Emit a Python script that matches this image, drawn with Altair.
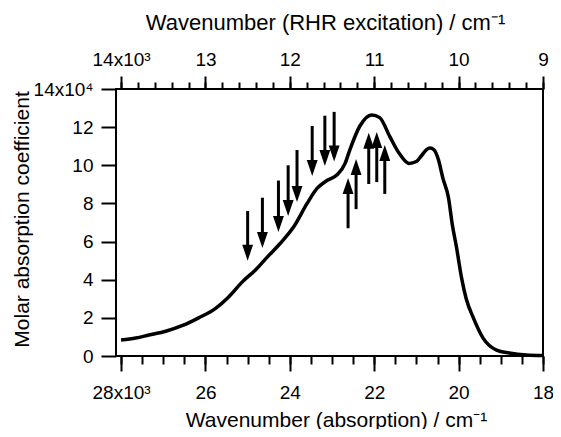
import altair as alt
import pandas as pd

# Absorption spectrum: wavenumber in 10^3 cm^-1, molar absorption in 10^4
wavenumber = [28.0, 27.65, 27.34, 26.94, 26.54, 26.16, 25.76, 25.45, 25.12, 24.82,
              24.53, 24.23, 23.9, 23.59, 23.35, 23.12, 22.88, 22.69, 22.58, 22.34,
              22.06, 21.87, 21.63, 21.4, 21.18, 21.0, 20.88, 20.76, 20.68, 20.58,
              20.48, 20.37, 20.24, 20.15, 20.05, 19.93, 19.82, 19.65, 19.42, 19.1,
              18.8, 18.4, 18.0]
absorption = [0.84, 0.94, 1.1, 1.3, 1.6, 2.0, 2.5, 3.1, 3.9, 4.5,
              5.2, 5.9, 6.8, 8.0, 8.8, 9.2, 9.5, 10.1, 10.8, 12.06,
              12.64, 12.5, 11.5, 10.6, 10.1, 10.2, 10.5, 10.82, 10.9, 10.8,
              10.3, 9.3, 8.3, 6.9, 5.7, 4.1, 3.0, 2.0, 0.94, 0.31,
              0.16, 0.05, 0.02]

# Down arrows (bleaching)
down_w = [25.0, 24.65, 24.27, 24.04, 23.83, 23.47, 23.17, 22.95]
down_tail = [7.6, 8.3, 9.2, 10.0, 10.8, 12.06, 12.6, 12.8]
down_tip = [5.0, 5.66, 6.5, 7.34, 8.08, 9.44, 9.96, 10.2]

# Up arrows
up_w = [22.62, 22.43, 22.13, 21.94, 21.75]
up_tail = [6.7, 7.7, 9.02, 9.12, 8.5]
up_tip = [9.33, 10.33, 11.7, 11.75, 11.06]

bottom_ticks = [28, 26, 24, 22, 20, 18]
bottom_minor = [18 + 0.5 * i for i in range(21)]
top_ticks = [14, 13, 12, 11, 10, 9]
top_minor = [round(9 + 0.2 * i, 2) for i in range(26)]
y_ticks = [0, 2, 4, 6, 8, 10, 12, 14]

X_DOM = [28.12, 18.0]
TOP_DOM = [14.06, 9.0]
Y_DOM = [0, 14]
FONT = "Liberation Sans"

curve = pd.DataFrame({"w": wavenumber, "eps": absorption})
down = pd.DataFrame({"w": down_w, "tail": down_tail, "tip": down_tip})
up = pd.DataFrame({"w": up_w, "tail": up_tail, "tip": up_tip})

xs = alt.Scale(domain=X_DOM, nice=False, zero=False)
ts = alt.Scale(domain=TOP_DOM, nice=False, zero=False)
ys = alt.Scale(domain=Y_DOM, nice=False, zero=False)

line = alt.Chart(curve).mark_line(
    color="black", strokeWidth=3.5, interpolate="monotone"
).encode(
    x=alt.X("w:Q", scale=xs, axis=alt.Axis(
        orient="bottom", values=bottom_ticks, tickSize=15, tickWidth=2,
        labelExpr="datum.value == 28 ? '28x10³' : datum.label",
        labelFontSize=19, labelPadding=12, labelFlush=False, labelOverlap=False,
        title="Wavenumber (absorption) / cm⁻¹", titleFontSize=21,
        titleX=220, titleY=70, titleAlign="center", titleBaseline="alphabetic")),
    y=alt.Y("eps:Q", scale=ys, axis=alt.Axis(
        orient="left", values=y_ticks, tickSize=15, tickWidth=2,
        labelExpr="datum.value == 14 ? '14x10⁴' : datum.label",
        labelFontSize=19, labelPadding=8, labelFlush=False, labelOverlap=False,
        title="Molar absorption coefficient", titleFontSize=21,
        titleX=-94, titleY=130, titleAngle=270, titleBaseline="middle")),
)

bottom_minor_layer = alt.Chart(curve).mark_line(opacity=0).encode(
    x=alt.X("w:Q", scale=xs, axis=alt.Axis(
        orient="bottom", values=bottom_minor, tickSize=8, tickWidth=2,
        labels=False, title=None)),
    y=alt.Y("eps:Q", scale=ys, axis=None),
)

top_major = alt.Chart(curve).transform_calculate(exc="datum.w / 2").mark_line(opacity=0).encode(
    x=alt.X("exc:Q", scale=ts, axis=alt.Axis(
        orient="top", values=top_ticks, tickSize=13, tickWidth=2,
        labelExpr="datum.value == 14 ? '14x10³' : datum.label",
        labelFontSize=19, labelPadding=11, labelBaseline="alphabetic",
        labelFlush=False, labelOverlap=False,
        title="Wavenumber (RHR excitation) / cm⁻¹", titleFontSize=22,
        titleX=209, titleY=-60, titleAlign="center", titleBaseline="alphabetic")),
    y=alt.Y("eps:Q", scale=ys, axis=None),
)

top_minor_layer = alt.Chart(curve).transform_calculate(exc="datum.w / 2").mark_line(opacity=0).encode(
    x=alt.X("exc:Q", scale=ts, axis=alt.Axis(
        orient="top", values=top_minor, tickSize=7, tickWidth=2,
        labels=False, title=None)),
    y=alt.Y("eps:Q", scale=ys, axis=None),
)

down_shaft = alt.Chart(down).transform_calculate(end="datum.tip + 0.45").mark_rule(
    color="black", strokeWidth=3, strokeCap="butt"
).encode(
    x=alt.X("w:Q", scale=xs, axis=None),
    y=alt.Y("tail:Q", scale=ys, axis=None),
    y2="end:Q",
)
down_head = alt.Chart(down).mark_point(
    shape="M0,0L-0.34,-1L0.34,-1Z", size=1024, filled=True,
    color="black", opacity=1, strokeWidth=0
).encode(
    x=alt.X("w:Q", scale=xs, axis=None),
    y=alt.Y("tip:Q", scale=ys, axis=None),
)

up_shaft = alt.Chart(up).transform_calculate(end="datum.tip - 0.45").mark_rule(
    color="black", strokeWidth=3, strokeCap="butt"
).encode(
    x=alt.X("w:Q", scale=xs, axis=None),
    y=alt.Y("tail:Q", scale=ys, axis=None),
    y2="end:Q",
)
up_head = alt.Chart(up).mark_point(
    shape="M0,0L-0.34,1L0.34,1Z", size=1024, filled=True,
    color="black", opacity=1, strokeWidth=0
).encode(
    x=alt.X("w:Q", scale=xs, axis=None),
    y=alt.Y("tip:Q", scale=ys, axis=None),
)

chart = alt.layer(
    line, bottom_minor_layer, top_major, top_minor_layer,
    down_shaft, down_head, up_shaft, up_head
).resolve_scale(x="independent", y="independent").properties(
    width=427, height=267,
    padding={"left": 108, "top": 81, "right": 10, "bottom": 73},
    autosize=alt.AutoSizeParams(type="none"),
    background="white",
).configure_view(
    stroke="black", strokeWidth=2
).configure_axis(
    labelFont=FONT, titleFont=FONT, labelColor="black", titleColor="black",
    tickColor="black", titleFontWeight="normal", grid=False, domain=False,
)

chart.save("out.html", embed_options={"renderer": "svg", "actions": False})
